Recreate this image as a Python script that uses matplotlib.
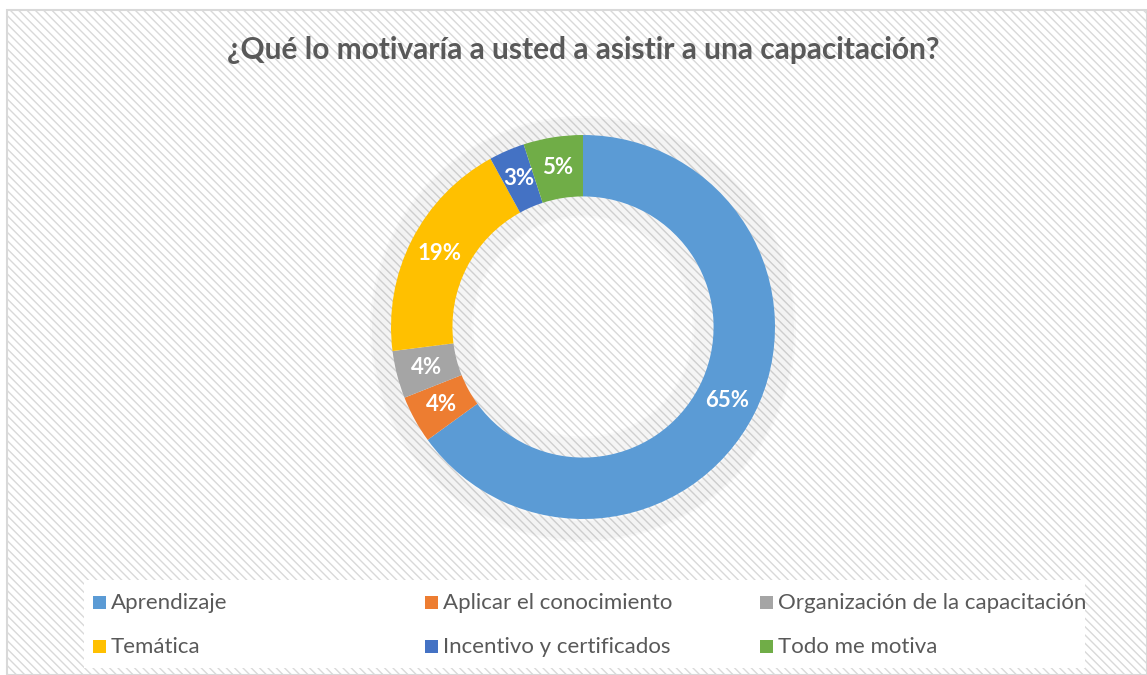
import numpy as np
import matplotlib
matplotlib.use('Agg')
from matplotlib import pyplot as plt
from matplotlib.patches import Rectangle, Circle

plt.rcParams['font.family'] = ['Lato', 'DejaVu Sans']
plt.rcParams['hatch.linewidth'] = 1.0
plt.rcParams['hatch.color'] = '#eeeeee'

title = '¿Qué lo motivaría a usted a asistir a una capacitación?'
categories = ['Aprendizaje', 'Aplicar el conocimiento', 'Organización de la capacitación',
              'Temática', 'Incentivo y certificados', 'Todo me motiva']
values = [65, 4, 4, 19, 3, 5]
colors = ['#5b9bd5', '#ed7d31', '#a5a5a5', '#ffc000', '#4472c4', '#70ad47']

W, H = 1147, 675
fig = plt.figure(figsize=(W / 100, H / 100), dpi=100)
fig.patch.set_facecolor('white')

# hatched chart area with thin border (own axes, drawn underneath)
bgax = fig.add_axes([0, 0, 1, 1], zorder=-5)
bgax.set_xlim(0, W)
bgax.set_ylim(H, 0)
bgax.axis('off')
bgax.add_patch(Rectangle((7, 10), W - 7, H - 10, facecolor='white',
                         edgecolor='#d9d9d9', hatch='\\\\\\\\', lw=1.5))
# legend box
bgax.add_patch(Rectangle((84, 580), 1085 - 84, 88, facecolor='white', edgecolor='none'))

fig.text(583 / W, 1 - 50 / H, title, ha='center', va='center',
         fontsize=21.5, fontweight='bold', color='#595959')

# donut
cx, cy, r = 583, 327, 192
ax = fig.add_axes([(cx - r) / W, (H - cy - r) / H, 2 * r / W, 2 * r / H])
ax.set_xlim(-1, 1)
ax.set_ylim(-1, 1)
ax.set_aspect('equal')
ax.axis('off')

# soft shadow around the ring
for k in range(10):
    ax.add_patch(Circle((0, -0.01), 1.0 + 0.011 * k, fill=False, lw=3,
                        edgecolor='#000000', alpha=0.022, clip_on=False))
    ax.add_patch(Circle((0, 0), 0.68 - 0.011 * k, fill=False, lw=3,
                        edgecolor='#000000', alpha=0.018, clip_on=False))

wedges, _ = ax.pie(values, colors=colors, startangle=90, counterclock=False,
                   radius=1.0, wedgeprops=dict(width=0.32, linewidth=0))
ax.set_xlim(-1, 1)
ax.set_ylim(-1, 1)

for w, v in zip(wedges, values):
    ang = np.deg2rad((w.theta1 + w.theta2) / 2)
    ax.text(0.84 * np.cos(ang), 0.84 * np.sin(ang), f'{v}%', ha='center', va='center',
            fontsize=16, fontweight='bold', color='white')

col_x = [93, 425, 760]
row_y = [603, 647]
for i, (lab, c) in enumerate(zip(categories, colors)):
    x = col_x[i % 3]
    y = row_y[i // 3]
    bgax.add_patch(Rectangle((x, y - 7), 13, 13, facecolor=c, edgecolor='none'))
    bgax.text(x + 18, y, lab, ha='left', va='center', fontsize=16, color='#595959')

plt.savefig('out.png', dpi=100)
